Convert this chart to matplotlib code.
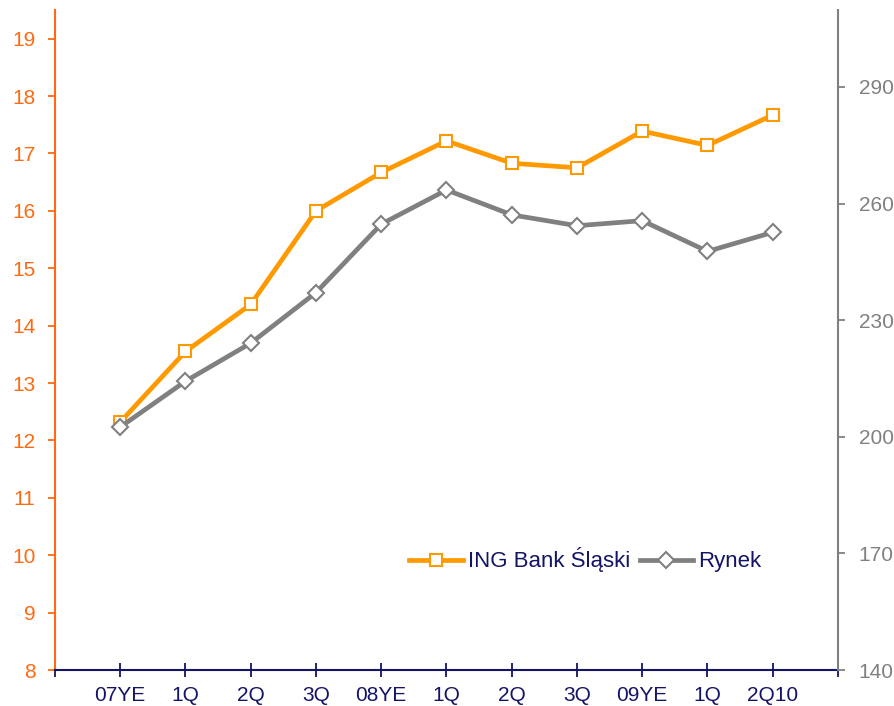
import matplotlib
matplotlib.use("Agg")
import matplotlib.pyplot as plt

plt.rcParams['font.family'] = ['Liberation Sans', 'DejaVu Sans']

categories = ["07YE", "1Q", "2Q", "3Q", "08YE", "1Q", "2Q", "3Q", "09YE", "1Q", "2Q10"]
ing_values = [12.32, 13.55, 14.37, 16.0, 16.67, 17.22, 16.83, 16.75, 17.39, 17.14, 17.67]
rynek_values = [202.5, 214.3, 224.1, 237.1, 254.7, 263.5, 257.1, 254.3, 255.6, 247.7, 252.6]
left_ticks = list(range(8, 20))
right_ticks = [140, 170, 200, 230, 260, 290]

ORANGE = "#FF9900"
ORANGE_AX = "#FF6A10"
GRAY = "#808080"
NAVY = "#141466"

fig = plt.figure(figsize=(8.95, 7.06), dpi=100)
ax = fig.add_axes([55/895, 36/706, 783/895, 660/706])
ax2 = ax.twinx()

x = list(range(1, len(categories) + 1))
ax.plot(x, ing_values, color=ORANGE, lw=3.4, marker='s', markersize=9,
        markerfacecolor='white', markeredgecolor=ORANGE, markeredgewidth=1.5,
        label="ING Bank Śląski", zorder=3)
ax2.plot(x, rynek_values, color=GRAY, lw=3.4, marker='D', markersize=8,
         markerfacecolor='white', markeredgecolor=GRAY, markeredgewidth=1.5,
         label="Rynek", zorder=3)

ax.set_xlim(0, len(categories) + 1)
ax.set_ylim(8, 19.5)
ax2.set_ylim(140, 309.8)

ax.set_xticks(range(0, len(categories) + 2))
ax.set_xticklabels([""] + categories + [""])
ax.set_yticks(left_ticks)
ax2.set_yticks(right_ticks)

for a in (ax, ax2):
    a.spines['top'].set_visible(False)
    a.patch.set_visible(False)
ax.spines['right'].set_visible(False)
ax2.spines['left'].set_visible(False)
ax2.spines['bottom'].set_visible(False)

ax.spines['left'].set_color(ORANGE_AX)
ax.spines['left'].set_linewidth(1.5)
ax.spines['bottom'].set_color(NAVY)
ax.spines['bottom'].set_linewidth(1.5)
ax2.spines['right'].set_color(GRAY)
ax2.spines['right'].set_linewidth(1.5)

ax.tick_params(axis='x', direction='inout', length=10, width=1.3, color=NAVY,
               labelcolor=NAVY, labelsize=15, pad=6.5)
ax.tick_params(axis='y', direction='out', length=5, width=1.3, color=ORANGE_AX,
               labelcolor=ORANGE_AX, labelsize=15, pad=9)
ax2.tick_params(axis='y', direction='out', length=5, width=1.3, color=GRAY,
                labelcolor=GRAY, labelsize=15, pad=10)

h1, l1 = ax.get_legend_handles_labels()
h2, l2 = ax2.get_legend_handles_labels()
leg = ax2.legend(h1 + h2, l1 + l2, loc='center', bbox_to_anchor=(0.677, 0.167),
                 ncol=2, frameon=False, fontsize=16, handlelength=2.4,
                 handletextpad=0.22, columnspacing=0.44, labelcolor=NAVY)

fig.savefig("out.png", dpi=100)
